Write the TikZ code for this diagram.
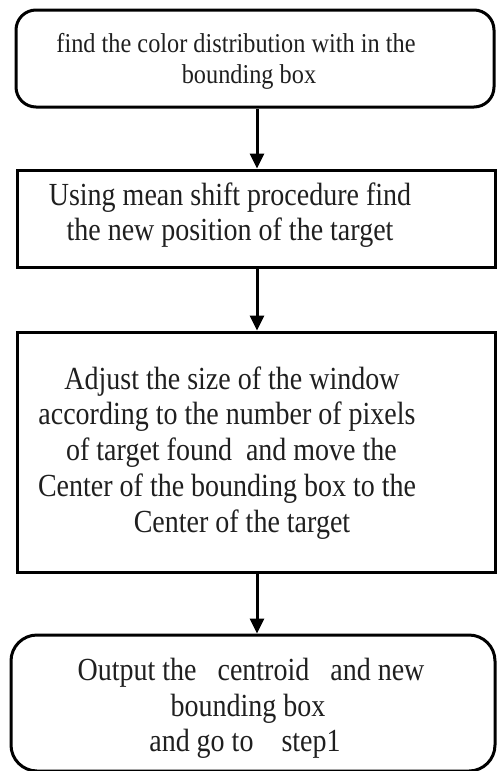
\documentclass[tikz,border=0pt]{standalone}
\usepackage{graphicx}
\usepackage{fontspec}
\setmainfont{Liberation Serif}
\usetikzlibrary{arrows.meta}
% tall serif text: stretch each text block vertically
\newcommand{\tallblock}[2]{\scalebox{1}[#1]{\begin{tabular}[t]{@{}c@{}}#2\end{tabular}}}
\begin{document}
\begin{tikzpicture}[x=1pt,y=-1pt,
  boxline/.style={draw=black,line width=3pt},
  roundbox/.style={boxline,rounded corners=20pt},
  sqbox/.style={boxline},
  label/.style={anchor=base,text=black!88,inner sep=0pt},
  big/.style={font=\fontsize{28}{31.3}\selectfont},
  small/.style={font=\fontsize{24.3}{27.7}\selectfont},
  flow/.style={line width=3pt,-{Triangle[length=15pt,width=14pt]}}]
\useasboundingbox (0,0) rectangle (497,771);
% process boxes
\node[roundbox,minimum width=478pt,minimum height=97pt] (b1) at (255,58.5) {};
\node[sqbox,minimum width=478pt,minimum height=97pt] (b2) at (256,218.5) {};
\node[sqbox,minimum width=478pt,minimum height=240pt] (b3) at (256,452) {};
\node[roundbox,rounded corners=26pt,minimum width=484pt,minimum height=136pt] (b4) at (253,703) {};
% texts (anchored at the baseline of their first line)
\node[label,small] (t1) at (236,52) {\tallblock{1.12}{find the color distribution with in the\\\hspace*{26pt}bounding box}};
\node[label,big] (t2) at (230,205) {\tallblock{1.15}{Using mean shift procedure find\\the new position of the target}};
\node[label,big] (t3) at (227,389) {\tallblock{1.15}{\hspace*{10pt}Adjust the size of the window\\according to the number of pixels\\\hspace*{9pt}of target found\ \ and move the\\Center of the bounding box to the\\\hspace*{30pt}Center of the target}};
\node[label,big] (t4) at (248,680) {\tallblock{1.15}{\hspace*{6pt}Output the\ \ \ centroid\ \ \ and new\\bounding box\\and go to\ \ \ \ step1\hspace*{6pt}}};
% connectors
\draw[flow] (b1.south -| 257,0) -- (b2.north -| 257,0);
\draw[flow] (b2.south -| 257,0) -- (b3.north -| 257,0);
\draw[flow] (b3.south -| 257,0) -- (b4.north -| 257,0);
\end{tikzpicture}
\end{document}
